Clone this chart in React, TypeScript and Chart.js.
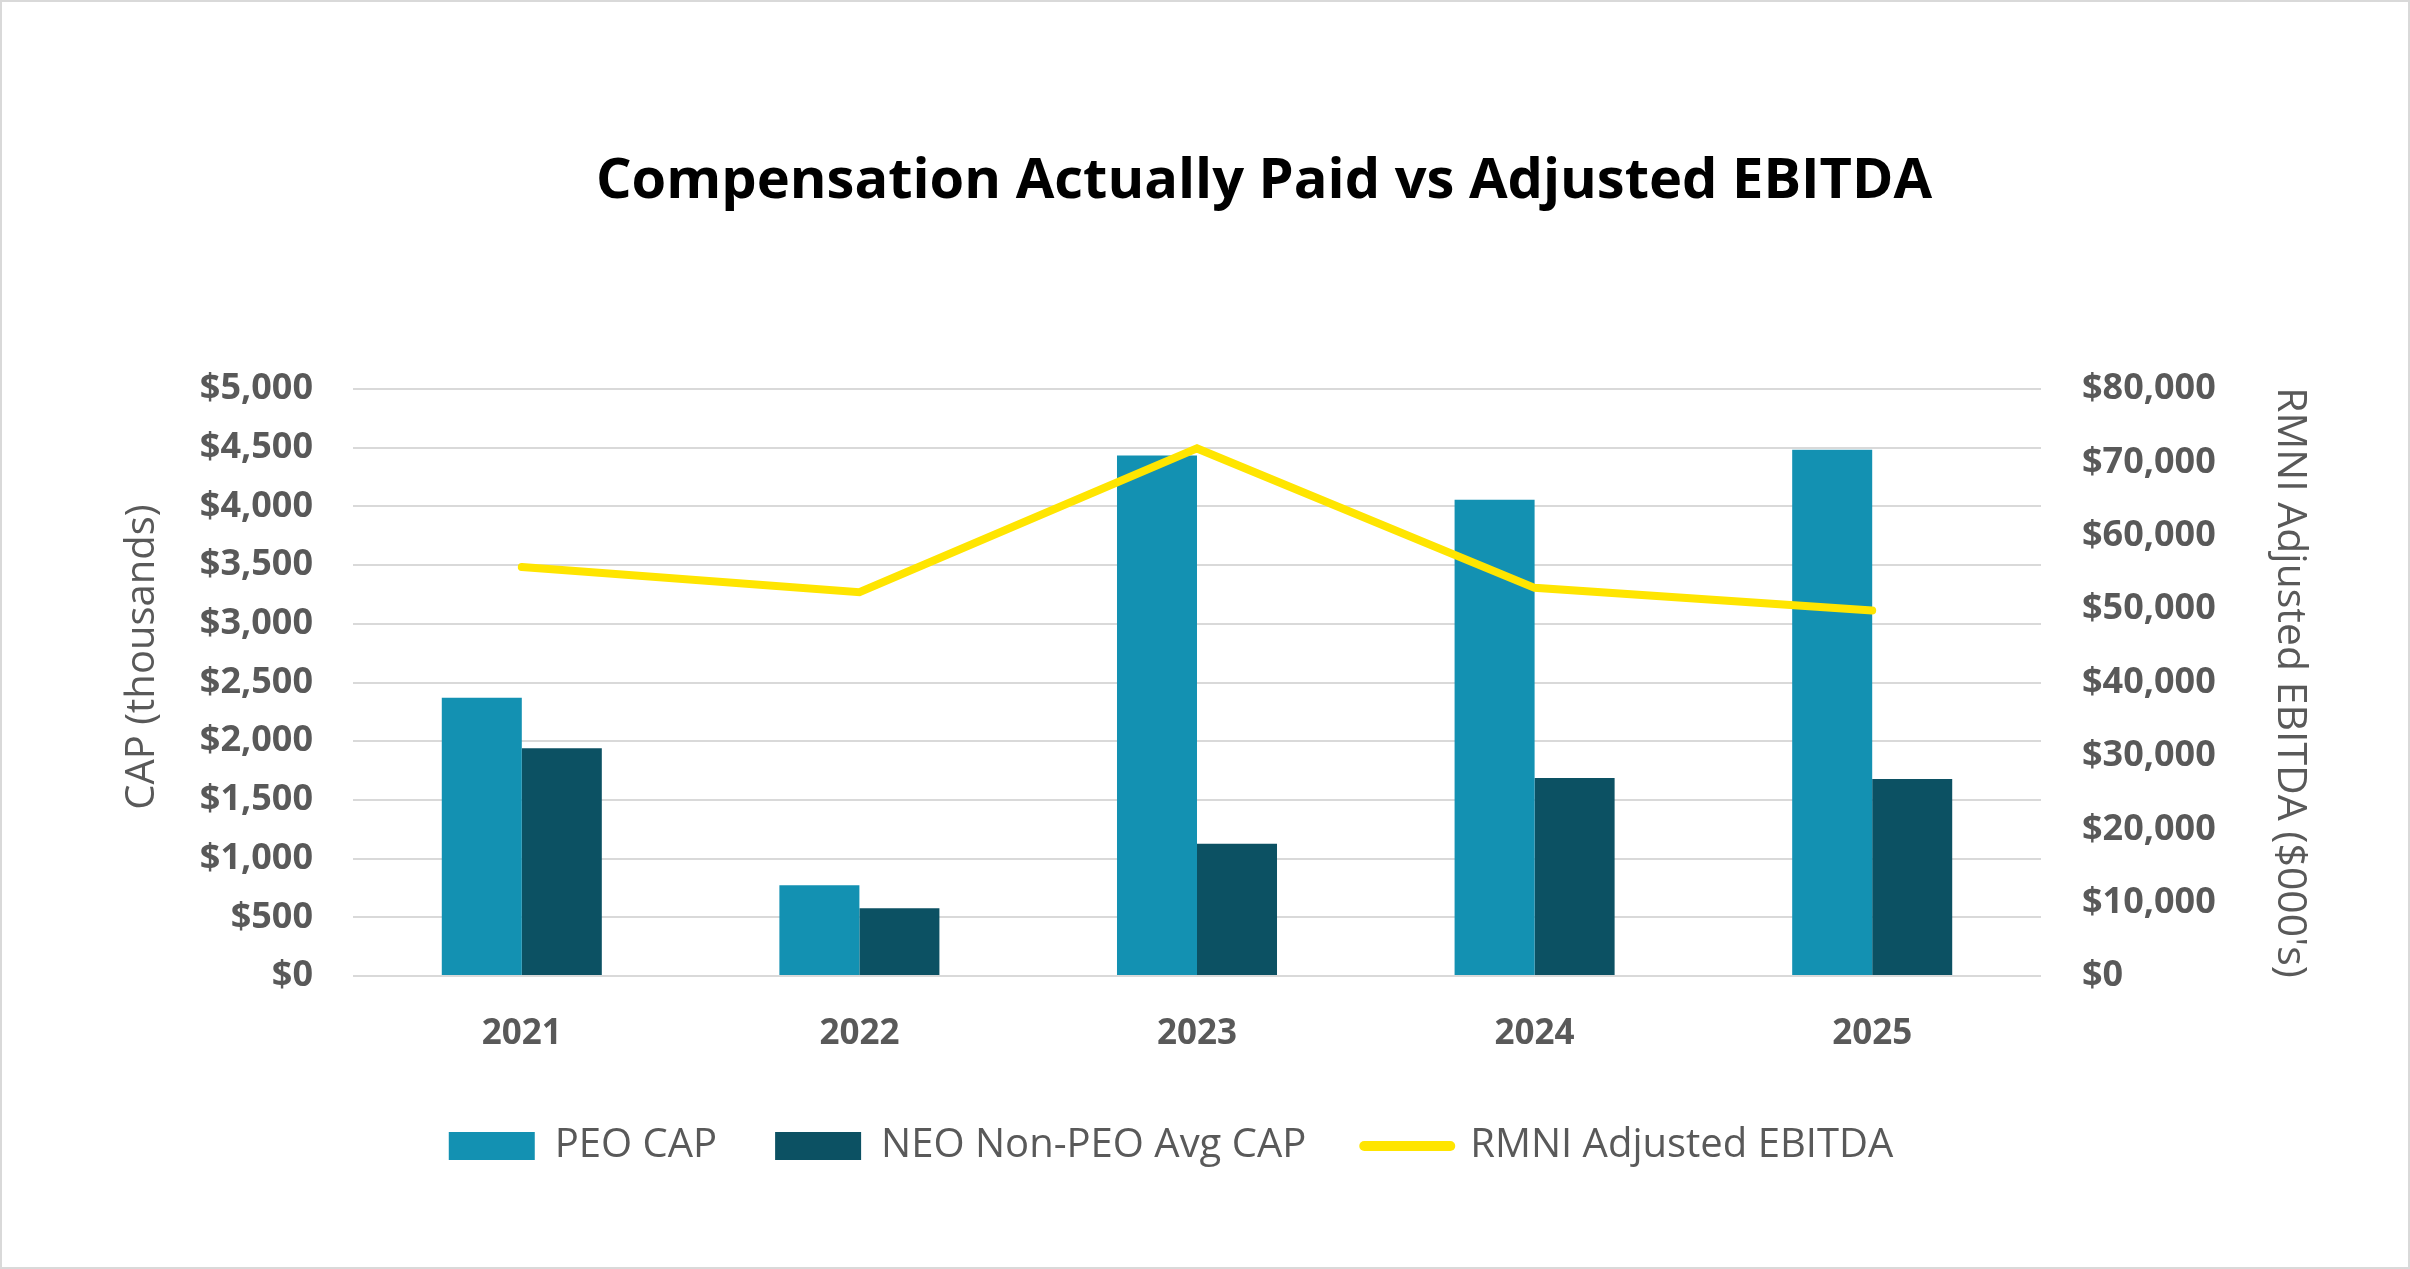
import React, { useEffect, useRef } from "react";
import { Chart, registerables } from "chart.js";

Chart.register(...registerables);

const W = 2410;
const H = 1269;

const chartTitle = "Compensation Actually Paid vs Adjusted EBITDA";
const years = ["2021", "2022", "2023", "2024", "2025"];
const peoCap = [2370, 772, 4433, 4056, 4483];
const neoAvgCap = [1940, 578, 1127, 1687, 1677];
const adjustedEbitda = [55750, 52300, 71900, 52900, 49800];
const seriesNames = ["PEO CAP", "NEO Non-PEO Avg CAP", "RMNI Adjusted EBITDA"];
const leftAxisTitle = "CAP (thousands)";
const rightAxisTitle = "RMNI Adjusted EBITDA ($000's)";

const FONT = "'Open Sans', 'DejaVu Sans', sans-serif";
const GRAY = "#595959";
const PEO_COLOR = "#1391B2";
const NEO_COLOR = "#0C5163";
const LINE_COLOR = "#FFE500";

const dollar = (v: any) => "$" + Number(v).toLocaleString("en-US");

const chromePlugin = {
  id: "chrome",
  beforeDraw(chart: any) {
    const ctx = chart.ctx;
    ctx.save();
    ctx.fillStyle = "#ffffff";
    ctx.fillRect(0, 0, chart.width, chart.height);
    ctx.restore();
  },
  afterDraw(chart: any) {
    const ctx = chart.ctx;
    ctx.save();
    ctx.strokeStyle = "#D9D9D9";
    ctx.lineWidth = 2;
    ctx.strokeRect(1, 1, chart.width - 2, chart.height - 2);
    // chart title
    ctx.fillStyle = "#000000";
    ctx.font = `bold 56px ${FONT}`;
    ctx.textAlign = "center";
    ctx.textBaseline = "middle";
    ctx.fillText(chartTitle, 1264, 182);
    // left axis title
    ctx.fillStyle = GRAY;
    ctx.font = `40px ${FONT}`;
    ctx.translate(143, 657);
    ctx.rotate(-Math.PI / 2);
    ctx.fillText(leftAxisTitle, 0, 0);
    ctx.restore();
  },
};

export default function App() {
  const ref = useRef<HTMLCanvasElement | null>(null);

  useEffect(() => {
    if (!ref.current) return;
    const chart = new Chart(ref.current, {
      type: "bar",
      data: {
        labels: years,
        datasets: [
          {
            type: "line",
            label: seriesNames[2],
            data: adjustedEbitda,
            yAxisID: "y1",
            borderColor: LINE_COLOR,
            backgroundColor: LINE_COLOR,
            borderWidth: 8,
            pointRadius: 0,
            borderCapStyle: "round",
            borderJoinStyle: "miter",
            tension: 0,
            order: 0,
          } as any,
          {
            type: "bar",
            label: seriesNames[0],
            data: peoCap,
            yAxisID: "y",
            backgroundColor: PEO_COLOR,
            borderWidth: 0,
            categoryPercentage: 0.474,
            barPercentage: 1.0,
            order: 1,
          },
          {
            type: "bar",
            label: seriesNames[1],
            data: neoAvgCap,
            yAxisID: "y",
            backgroundColor: NEO_COLOR,
            borderWidth: 0,
            categoryPercentage: 0.474,
            barPercentage: 1.0,
            order: 1,
          },
        ],
      },
      options: {
        responsive: false,
        animation: false,
        devicePixelRatio: 1,
        layout: { padding: { top: 389, bottom: 93, left: 0, right: 68 } },
        plugins: {
          title: { display: false },
          tooltip: { enabled: false },
          legend: {
            display: true,
            position: "bottom",
            labels: {
              font: { family: FONT, size: 40 },
              color: GRAY,
              usePointStyle: true,
              pointStyleWidth: 86,
              boxWidth: 86,
              boxHeight: 28,
              padding: 58,
              sort: (a: any, b: any) => {
                const order = [1, 2, 0];
                return order.indexOf(a.datasetIndex) - order.indexOf(b.datasetIndex);
              },
              generateLabels: (c: any) =>
                c.data.datasets.map((ds: any, i: number) => ({
                  text: ds.label,
                  datasetIndex: i,
                  fillStyle: ds.backgroundColor,
                  strokeStyle: ds.type === "line" ? ds.borderColor : ds.backgroundColor,
                  lineWidth: ds.type === "line" ? 10 : 0,
                  lineCap: "round",
                  pointStyle: ds.type === "line" ? "line" : "rect",
                  fontColor: GRAY,
                  hidden: false,
                })),
            },
          },
        },
        scales: {
          x: {
            afterFit: (s: any) => {
              s.height = 92;
            },
            grid: { display: false, drawTicks: false },
            border: { display: false },
            ticks: {
              font: { family: FONT, size: 35, weight: "bold" },
              color: GRAY,
              padding: 37,
            },
          },
          y: {
            position: "left",
            min: 0,
            max: 5000,
            afterFit: (s: any) => {
              s.width = 353;
            },
            grid: { color: "#D9D9D9", lineWidth: 2, drawTicks: false },
            border: { display: false },
            ticks: {
              stepSize: 500,
              font: { family: FONT, size: 36, weight: "bold" },
              color: GRAY,
              padding: 40,
              callback: dollar,
            },
            title: { display: false },
          },
          y1: {
            position: "right",
            min: 0,
            max: 80000,
            afterFit: (s: any) => {
              s.width = 301;
            },
            grid: { display: false, drawTicks: false },
            border: { display: false },
            ticks: {
              stepSize: 10000,
              font: { family: FONT, size: 36, weight: "bold" },
              color: GRAY,
              padding: 41,
              callback: dollar,
            },
            title: {
              display: true,
              text: rightAxisTitle,
              font: { family: FONT, size: 41 },
              color: GRAY,
              padding: { top: 28, bottom: 0 },
            },
          },
        },
      },
      plugins: [chromePlugin],
    } as any);
    return () => chart.destroy();
  }, []);

  return (
    <canvas
      ref={ref}
      width={W}
      height={H}
      style={{ position: "fixed", left: 0, top: 0, display: "block", width: W, height: H }}
    />
  );
}
